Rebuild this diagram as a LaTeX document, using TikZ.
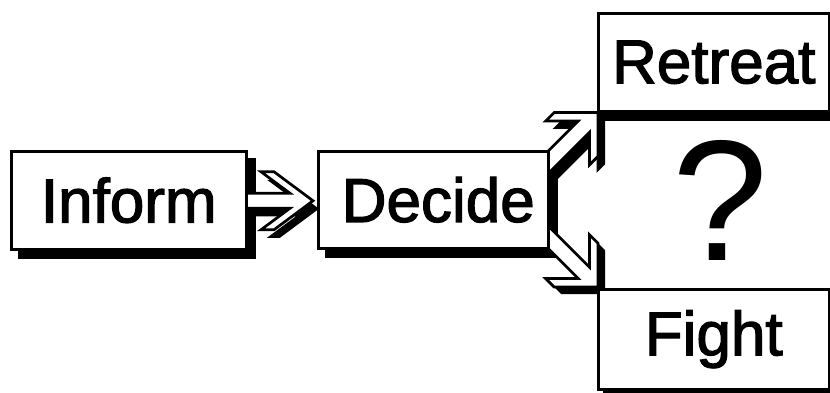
\documentclass[tikz,border=0pt]{standalone}
\usepackage{fontspec}
\setmainfont{Liberation Sans}
\newfontfamily\heavyfont{Liberation Sans}[FakeBold=2]
\usetikzlibrary{calc}
\pgfdeclarelayer{bottom}
\pgfdeclarelayer{mid}
\pgfsetlayers{bottom,mid,main}
\begin{document}
\begin{tikzpicture}[x=1pt,y=-1pt,
  box/.style={draw=black, line width=2.5pt, fill=white, rectangle, inner sep=0pt,
    anchor=north west, font=\heavyfont\fontsize{62}{70}\selectfont},
  shade/.style={fill=black},
  arrowbody/.style={draw=black, line width=2.7pt, fill=white, line join=miter},
  arrowshade/.style={fill=black},
]
\useasboundingbox (0,0) rectangle (830,392);

% boxes
\node[box, minimum width=235pt, minimum height=98pt] (inform) at (10,150) {Inform};
\node[box, minimum width=230pt, minimum height=97pt] (decide) at (317,150) {\hspace*{10pt}Decide};
\node[box, minimum width=231pt, minimum height=98pt] (retreat) at (597,12) {Retreat};
\node[box, minimum width=231pt, minimum height=100pt] (fight) at (597,288) {Fight};
\node[font=\fontsize{172}{200}\selectfont, anchor=base, inner sep=0pt] (q) at (720,260) {?};

% background and box shadows
\begin{pgfonlayer}{bottom}
  \fill[white] (0,0) rectangle (830,392);
  \fill[shade] ($(inform.north west)+(8,8)$) rectangle ($(inform.south east)+(8,8)$);
  \fill[shade] ($(decide.north west)+(8,8)$) rectangle ($(decide.south east)+(8,8)$);
  \fill[shade] ($(retreat.south west)+(2,0)$) rectangle ($(retreat.south east)+(2,8)$);
  \fill[shade] ($(fight.south west)+(6,0)$) rectangle ($(fight.south east)+(2,8)$);
\end{pgfonlayer}

% arrows
\begin{pgfonlayer}{mid}
  % Inform -> Decide
  \begin{scope}[shift={($(decide.west)+(-4,1)$)}, shift={(6,8)}]
    \fill[arrowshade] (-80,-7.5) -- (-23,-7.5) -- (-52,-29) -- (-39,-29) -- (0,0)
      -- (-39,29) -- (-52,29) -- (-23,7.5) -- (-80,7.5) -- cycle;
  \end{scope}
  \begin{scope}[shift={($(decide.west)+(-4,1)$)}]
    \path[arrowbody] (-80,-7.5) -- (-23,-7.5) -- (-52,-29) -- (-39,-29) -- (0,0)
      -- (-39,29) -- (-52,29) -- (-23,7.5) -- (-80,7.5) -- cycle;
  \end{scope}
  % Decide -> Retreat
  \begin{scope}[shift={($(retreat.south west)+(8,8)$)}, rotate=45]
    \fill[arrowshade] (-95,-8) -- (-20,-8) -- (-43,-31) -- (-31,-31) -- (0,0)
      -- (-31,31) -- (-43,31) -- (-20,8) -- (-95,8) -- cycle;
  \end{scope}
  \begin{scope}[shift={($(retreat.south west)+(1,0)$)}, rotate=45]
    \path[arrowbody] (-95,-8) -- (-20,-8) -- (-43,-31) -- (-31,-31) -- (0,0)
      -- (-31,31) -- (-43,31) -- (-20,8) -- (-95,8) -- cycle;
  \end{scope}
  % Decide -> Fight
  \begin{scope}[shift={($(fight.north west)+(8,6)$)}, rotate=-45]
    \fill[arrowshade] (-95,-8) -- (-20,-8) -- (-43,-31) -- (-31,-31) -- (0,0)
      -- (-31,31) -- (-43,31) -- (-20,8) -- (-95,8) -- cycle;
  \end{scope}
  \begin{scope}[shift={($(fight.north west)+(1,-1)$)}, rotate=-45]
    \path[arrowbody] (-95,-8) -- (-20,-8) -- (-43,-31) -- (-31,-31) -- (0,0)
      -- (-31,31) -- (-43,31) -- (-20,8) -- (-95,8) -- cycle;
  \end{scope}
\end{pgfonlayer}
\end{tikzpicture}
\end{document}
